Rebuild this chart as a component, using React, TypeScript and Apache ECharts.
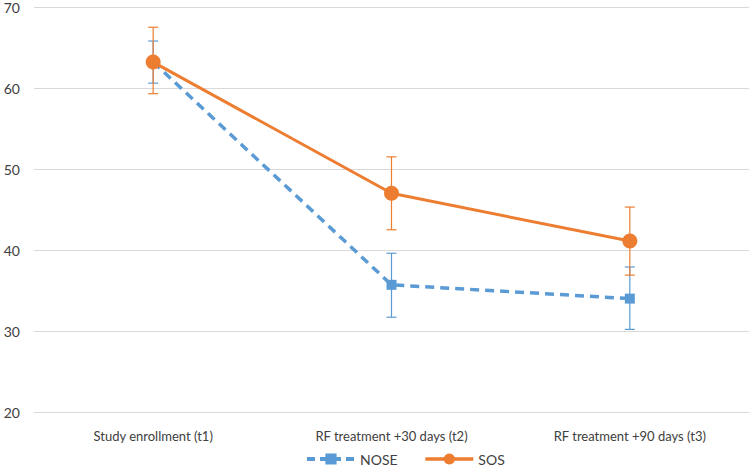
import React, { useEffect, useRef } from "react";
import * as echarts from "echarts";

const categories = ["Study enrollment (t1)", "RF treatment +30 days (t2)", "RF treatment +90 days (t3)"];
const noseValues = [63.2, 35.7, 34.0];
const noseLow = [60.6, 31.7, 30.2];
const noseHigh = [65.8, 39.6, 37.9];
const sosValues = [63.2, 47.0, 41.1];
const sosLow = [59.3, 42.5, 36.9];
const sosHigh = [67.5, 51.5, 45.3];

const BLUE = "#5B9BD5";
const ORANGE = "#ED7D31";

function errorSeries(name: string, low: number[], high: number[], color: string) {
  return {
    type: "custom",
    name: name + "_err",
    data: low.map((l, i) => [i, l, high[i]]),
    z: 1,
    renderItem: (params: any, api: any) => {
      const x = api.value(0);
      const lo = api.coord([x, api.value(1)]);
      const hi = api.coord([x, api.value(2)]);
      const w = 5;
      const style = { stroke: color, lineWidth: 1.2 };
      return {
        type: "group",
        children: [
          { type: "line", shape: { x1: lo[0], y1: lo[1], x2: hi[0], y2: hi[1] }, style },
          { type: "line", shape: { x1: lo[0] - w, y1: lo[1], x2: lo[0] + w, y2: lo[1] }, style },
          { type: "line", shape: { x1: hi[0] - w, y1: hi[1], x2: hi[0] + w, y2: hi[1] }, style },
        ],
      };
    },
  };
}

export default function App() {
  const ref = useRef<HTMLDivElement>(null);
  useEffect(() => {
    const chart = echarts.init(ref.current!, null, { renderer: "svg" });
    chart.setOption({
      animation: false,
      textStyle: { fontFamily: "Lato" },
      grid: { left: 34, right: 4, top: 7, bottom: 60 },
      legend: {
        bottom: 1,
        left: 300,
        itemWidth: 48,
        itemHeight: 14,
        itemGap: 26,
        textStyle: { color: "#404040", fontSize: 14 },
        data: [
          { name: "NOSE", lineStyle: { width: 4, type: [8, 5] } },
          { name: "SOS", lineStyle: { width: 3.5 } },
        ],
      },
      xAxis: {
        type: "category",
        data: categories,
        boundaryGap: true,
        axisLine: { lineStyle: { color: "#d9d9d9" } },
        axisTick: { show: false },
        axisLabel: { color: "#404040", fontSize: 13, margin: 17 },
      },
      yAxis: {
        type: "value",
        min: 20,
        max: 70,
        interval: 10,
        axisLine: { show: false },
        axisTick: { show: false },
        axisLabel: { color: "#404040", fontSize: 14, margin: 14 },
        splitLine: { lineStyle: { color: "#d9d9d9" } },
      },
      series: [
        errorSeries("NOSE", noseLow, noseHigh, BLUE),
        errorSeries("SOS", sosLow, sosHigh, ORANGE),
        {
          name: "NOSE",
          type: "line",
          data: noseValues,
          symbol: "rect",
          symbolSize: 10,
          z: 3,
          itemStyle: { color: BLUE },
          lineStyle: { color: BLUE, width: 3.5, type: [9, 6] },
        },
        {
          name: "SOS",
          type: "line",
          data: sosValues,
          symbol: "circle",
          symbolSize: 15,
          z: 4,
          itemStyle: { color: ORANGE },
          lineStyle: { color: ORANGE, width: 3 },
        },
      ],
    });
    return () => chart.dispose();
  }, []);
  return <div ref={ref} style={{ width: 753, height: 472, position: "absolute", left: 0, top: 0 }} />;
}
